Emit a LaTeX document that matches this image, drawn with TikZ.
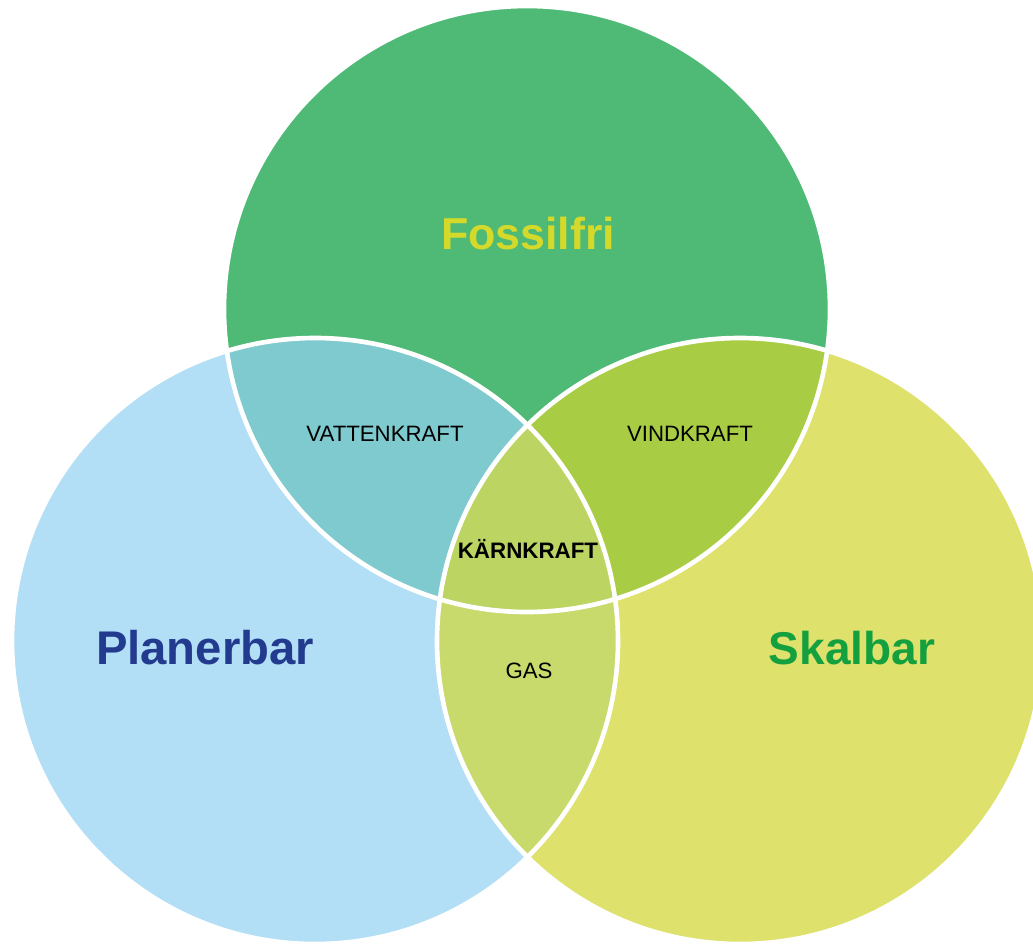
\documentclass[tikz,border=0pt]{standalone}
\usepackage{fontspec}
\setmainfont{Liberation Sans}
\definecolor{cTop}{HTML}{4EBA76}
\definecolor{cLeft}{HTML}{B2DFF6}
\definecolor{cRight}{HTML}{DEE16C}
\definecolor{cTL}{HTML}{7FCACE}
\definecolor{cTR}{HTML}{A8CC43}
\definecolor{cLR}{HTML}{C9DA6C}
\definecolor{cAll}{HTML}{BBD462}
\definecolor{tTop}{HTML}{D5D92A}
\definecolor{tLeft}{HTML}{233B8F}
\definecolor{tRight}{HTML}{14A03E}
\begin{document}
\begin{tikzpicture}[x=0.025cm,y=-0.025cm,
  big/.style={font=\fontsize{32.5}{38}\selectfont\bfseries, inner sep=0pt},
  small/.style={font=\fontsize{15.8}{18}\selectfont, text=black, inner sep=0pt},
  outline/.style={draw=white, line width=3.3pt}]
\useasboundingbox (0,0) rectangle (1033,943);
\clip (0,0) rectangle (1033,943);
\def\R{303}
\coordinate (cT) at (527,309);
\coordinate (cL) at (315,641);
\coordinate (cR) at (740,641);
% base circles
\fill[cTop] (cT) circle (\R);
\fill[cLeft] (cL) circle (\R);
\fill[cRight] (cR) circle (\R);
% pairwise intersections
\begin{scope}\clip (cT) circle (\R); \fill[cTL] (cL) circle (\R);\end{scope}
\begin{scope}\clip (cT) circle (\R); \fill[cTR] (cR) circle (\R);\end{scope}
\begin{scope}\clip (cL) circle (\R); \fill[cLR] (cR) circle (\R);\end{scope}
\begin{scope}\clip (cT) circle (\R); \clip (cL) circle (\R); \fill[cAll] (cR) circle (\R);\end{scope}
% white outlines
\draw[outline] (cT) circle (\R);
\draw[outline] (cL) circle (\R);
\draw[outline] (cR) circle (\R);
% labels
\node[big, font=\fontsize{31.8}{38}\selectfont\bfseries, text=tTop] (fossil) at (528,234) {Fossilfri};
\node[big, font=\fontsize{33.6}{40}\selectfont\bfseries, text=tLeft] (plan) at (205,648) {Planerbar};
\node[big, font=\fontsize{32.7}{39}\selectfont\bfseries, text=tRight] (skal) at (852,648) {Skalbar};
\node[small] (vatten) at (385,434) {VATTENKRAFT};
\node[small] (vind) at (690,434) {VINDKRAFT};
\node[small, font=\fontsize{15.9}{18}\selectfont\bfseries] (karn) at (528,549) {KÄRNKRAFT};
\node[small] (gas) at (529,671) {GAS};
\end{tikzpicture}
\end{document}
